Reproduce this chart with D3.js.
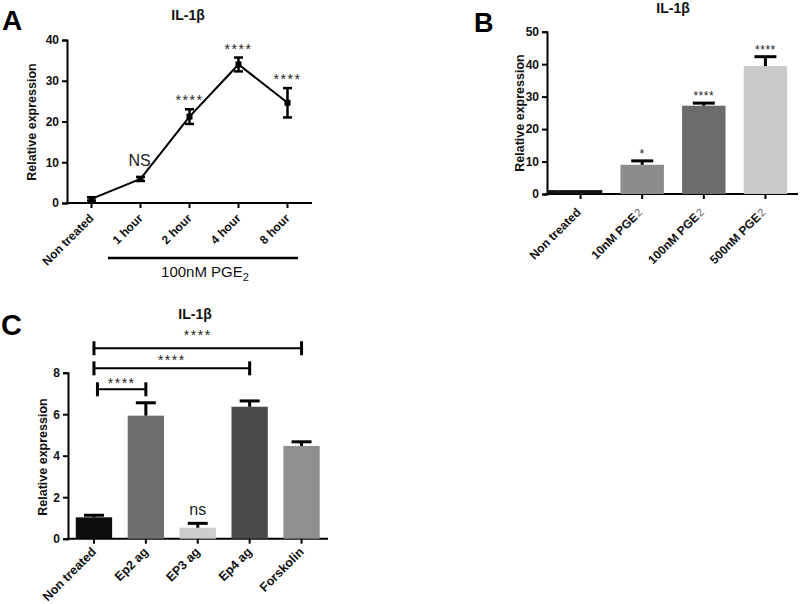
<!DOCTYPE html>
<html><head><meta charset="utf-8">
<script src="https://cdn.jsdelivr.net/npm/d3@7"></script>
<style>body{margin:0;background:#fff}svg{display:block}text{font-family:Arial,"Liberation Sans",sans-serif}</style>
</head><body>
<svg id="c" width="800" height="604"></svg>
<script>
// Panel A: time course, 100nM PGE2
const catsA = ["Non treated", "1 hour", "2 hour", "4 hour", "8 hour"];
const valsA = [1.0, 5.9, 21.2, 34.0, 24.6];
const errA  = [0.4, 0.5, 1.8, 1.7, 3.6];
const sigA  = ["", "NS", "****", "****", "****"];
const ticksA = [0, 10, 20, 30, 40];

// Panel B: dose response
const catsB = ["Non treated", "10nM PGE", "100nM PGE", "500nM PGE"];
const subB  = ["", "2", "2", "2"];
const valsB = [1.2, 9.0, 27.2, 39.4];
const errB  = [0.2, 1.2, 0.8, 2.9];
const sigB  = ["", "*", "****", "****"];
const colB  = ["#111111", "#8c8c8c", "#6b6b6b", "#c9c9c9"];
const ticksB = [0, 10, 20, 30, 40, 50];

// Panel C: agonists
const catsC = ["Non treated", "Ep2 ag", "EP3 ag", "Ep4 ag", "Forskolin"];
const valsC = [1.03, 5.93, 0.53, 6.36, 4.47];
const errC  = [0.10, 0.62, 0.21, 0.28, 0.20];
const sigC  = ["", "", "ns", "", ""];
const colC  = ["#0d0d0d", "#6e6e6e", "#cdcdcd", "#4a4a4a", "#8f8f8f"];
const ticksC = [0, 2, 4, 6, 8];
const bracketFrom = ["Non treated", "Non treated", "Non treated"];
const bracketTo   = ["Ep2 ag", "Ep4 ag", "Forskolin"];
const bracketLvl  = [7.2, 8.21, 9.18];
const bracketLab  = ["****", "****", "****"];

const svg = d3.select("#c");
const FONT = 'Arial,"Liberation Sans",sans-serif';

function axes(g, x, y, ticks, y0, xr, opts) {
  const ax = d3.axisLeft(y).tickValues(ticks).tickSize(5).tickPadding(3).tickFormat(d3.format("d"));
  const ga = g.append("g").attr("transform", `translate(${xr[0]},0)`).call(ax);
  ga.select(".domain").attr("stroke", "#000").attr("stroke-width", 2);
  ga.selectAll(".tick line").attr("stroke", "#000").attr("stroke-width", 2);
  ga.selectAll(".tick text").attr("font-size", 12).attr("font-weight", "bold").attr("font-family", FONT).attr("fill", "#111");
  // x axis line
  g.append("line").attr("x1", xr[0]-1).attr("x2", xr[1]).attr("y1", y0).attr("y2", y0)
    .attr("stroke", "#000").attr("stroke-width", 2);
}

// ---------- Panel A ----------
(function(){
  const g = svg.append("g");
  const x = d3.scaleBand().domain(catsA).range([67, 312]);
  const y = d3.scaleLinear().domain([0, 40]).range([203, 40]);
  const cx = d => x(d) + x.bandwidth()/2;
  axes(g, x, y, ticksA, y(0), [67, 312]);
  catsA.forEach(c => g.append("line").attr("x1", cx(c)).attr("x2", cx(c)).attr("y1", y(0)).attr("y2", y(0)+5).attr("stroke","#000").attr("stroke-width",2));
  const line = d3.line().x((d,i) => cx(catsA[i])).y(d => y(d));
  g.append("path").attr("d", line(valsA)).attr("fill","none").attr("stroke","#000").attr("stroke-width",2);
  catsA.forEach((c,i) => {
    const X = cx(c);
    g.append("line").attr("x1",X).attr("x2",X).attr("y1",y(valsA[i]-errA[i])).attr("y2",y(valsA[i]+errA[i])).attr("stroke","#000").attr("stroke-width",2.5);
    [valsA[i]-errA[i], valsA[i]+errA[i]].forEach(v => g.append("line").attr("x1",X-4.5).attr("x2",X+4.5).attr("y1",y(v)).attr("y2",y(v)).attr("stroke","#000").attr("stroke-width",2.5));
    g.append("rect").attr("x",X-3).attr("y",y(valsA[i])-3).attr("width",6).attr("height",6).attr("fill","#000");
    if (sigA[i] === "NS") {
      g.append("text").attr("x",X-1).attr("y",y(valsA[i]+errA[i])-11).attr("text-anchor","middle").attr("font-size",16).attr("fill","#222").text("NS");
    } else if (sigA[i]) {
      g.append("text").attr("x",X).attr("y",y(valsA[i]+errA[i])-4).attr("text-anchor","middle").attr("font-size",14).attr("letter-spacing",1.5).attr("fill","#222").text(sigA[i]);
    }
    g.append("text").attr("transform",`translate(${X+3},${y(0)+16}) rotate(-45)`).attr("text-anchor","end")
      .attr("font-size",12).attr("font-weight","bold").attr("fill","#111").text(c);
  });
  g.append("line").attr("x1",108).attr("x2",298).attr("y1",258).attr("y2",258).attr("stroke","#000").attr("stroke-width",2.5);
  const t = g.append("text").attr("x",205).attr("y",277).attr("text-anchor","middle").attr("font-size",15).attr("fill","#111");
  t.append("tspan").text("100nM PGE");
  t.append("tspan").attr("font-size",11).attr("dy",4).text("2");
  g.append("text").attr("x",188).attr("y",20).attr("text-anchor","middle").attr("font-size",14).attr("font-weight","bold").attr("fill","#111").text("IL-1β");
  g.append("text").attr("x",2).attr("y",30).attr("font-size",28).attr("font-weight","bold").attr("fill","#000").text("A");
  g.append("text").attr("transform","translate(36,122) rotate(-90)").attr("text-anchor","middle").attr("font-size",12.5).attr("font-weight","bold").attr("fill","#111").text("Relative expression");
})();

// ---------- Panel B ----------
(function(){
  const g = svg.append("g");
  const x = d3.scaleBand().domain(catsB).range([549, 797]).paddingInner(0.295).paddingOuter(0.16);
  const y = d3.scaleLinear().domain([0, 50]).range([194, 31.7]);
  axes(g, x, y, ticksB, y(0), [547, 798]);
  catsB.forEach((c,i) => {
    const X = x(c) + x.bandwidth()/2;
    g.append("rect").attr("x",x(c)).attr("y",y(valsB[i])).attr("width",x.bandwidth()).attr("height",y(0)-y(valsB[i])).attr("fill",colB[i]);
    g.append("line").attr("x1",X).attr("x2",X).attr("y1",y(0)).attr("y2",y(0)+5).attr("stroke","#000").attr("stroke-width",2);
    if (i > 0) {
      g.append("line").attr("x1",X).attr("x2",X).attr("y1",y(valsB[i])).attr("y2",y(valsB[i]+errB[i])).attr("stroke","#000").attr("stroke-width",3);
      g.append("line").attr("x1",X-11).attr("x2",X+11).attr("y1",y(valsB[i]+errB[i])).attr("y2",y(valsB[i]+errB[i])).attr("stroke","#000").attr("stroke-width",3);
    }
    if (sigB[i]) g.append("text").attr("x",X).attr("y",y(valsB[i]+errB[i])-3).attr("text-anchor","middle").attr("font-size",12).attr("letter-spacing",0.5).attr("fill","#222").text(sigB[i]);
    const t = g.append("text").attr("transform",`translate(${X+1},${y(0)+19}) rotate(-45)`).attr("text-anchor","end")
      .attr("font-size",12).attr("font-weight","bold").attr("fill","#111");
    t.append("tspan").text(c);
    if (subB[i]) t.append("tspan").attr("font-weight","normal").attr("fill","#666").attr("font-size",11).attr("dx",1).text(subB[i]);
  });
  g.append("rect").attr("x",547).attr("y",y(valsB[0])).attr("width",x(catsB[0])-547).attr("height",y(0)-y(valsB[0])).attr("fill",colB[0]);
  g.append("text").attr("x",673).attr("y",13).attr("text-anchor","middle").attr("font-size",14).attr("font-weight","bold").attr("fill","#111").text("IL-1β");
  g.append("text").attr("x",474).attr("y",32).attr("font-size",27).attr("font-weight","bold").attr("fill","#000").text("B");
  g.append("text").attr("transform","translate(524,113) rotate(-90)").attr("text-anchor","middle").attr("font-size",12.5).attr("font-weight","bold").attr("fill","#111").text("Relative expression");
})();

// ---------- Panel C ----------
(function(){
  const g = svg.append("g");
  const x = d3.scaleBand().domain(catsC).range([68, 327.5]).paddingInner(0.3).paddingOuter(0.15);
  const y = d3.scaleLinear().domain([0, 8]).range([538.7, 372.7]);
  const cx = d => x(d) + x.bandwidth()/2;
  axes(g, x, y, ticksC, y(0), [68, 328]);
  catsC.forEach((c,i) => {
    const X = cx(c);
    g.append("rect").attr("x",x(c)).attr("y",y(valsC[i])).attr("width",x.bandwidth()).attr("height",y(0)-y(valsC[i])).attr("fill",colC[i]);
    g.append("line").attr("x1",X).attr("x2",X).attr("y1",y(0)).attr("y2",y(0)+5).attr("stroke","#000").attr("stroke-width",2);
    g.append("line").attr("x1",X).attr("x2",X).attr("y1",y(valsC[i])).attr("y2",y(valsC[i]+errC[i])).attr("stroke","#000").attr("stroke-width",3);
    g.append("line").attr("x1",X-10).attr("x2",X+10).attr("y1",y(valsC[i]+errC[i])).attr("y2",y(valsC[i]+errC[i])).attr("stroke","#000").attr("stroke-width",3);
    if (sigC[i]) g.append("text").attr("x",X).attr("y",y(valsC[i]+errC[i])-8).attr("text-anchor","middle").attr("font-size",16).attr("fill","#222").text(sigC[i]);
    g.append("text").attr("transform",`translate(${X+3},${y(0)+14}) rotate(-45)`).attr("text-anchor","end")
      .attr("font-size",12.5).attr("font-weight","bold").attr("fill","#111").text(c);
  });
  bracketLvl.forEach((lv,i) => {
    const x1 = cx(bracketFrom[i]) + (i === 0 ? 3.5 : 0), x2 = cx(bracketTo[i]);
    const Y = y(lv);
    g.append("line").attr("x1",x1).attr("x2",x2).attr("y1",Y).attr("y2",Y).attr("stroke","#000").attr("stroke-width",2);
    [x1, x2].forEach(xx => g.append("line").attr("x1",xx).attr("x2",xx).attr("y1",Y-7).attr("y2",Y+7).attr("stroke","#000").attr("stroke-width",3));
    g.append("text").attr("x",(x1+x2)/2).attr("y",Y-(i===0?1:(i===1?3:8))).attr("text-anchor","middle").attr("font-size",14).attr("letter-spacing",1.5).attr("fill","#222").text(bracketLab[i]);
  });
  g.append("text").attr("x",195).attr("y",319).attr("text-anchor","middle").attr("font-size",14).attr("font-weight","bold").attr("fill","#111").text("IL-1β");
  g.append("text").attr("x",1).attr("y",335).attr("font-size",29).attr("font-weight","bold").attr("fill","#000").text("C");
  g.append("text").attr("transform","translate(47,457) rotate(-90)").attr("text-anchor","middle").attr("font-size",12.5).attr("font-weight","bold").attr("fill","#111").text("Relative expression");
})();
</script>
</body></html>
